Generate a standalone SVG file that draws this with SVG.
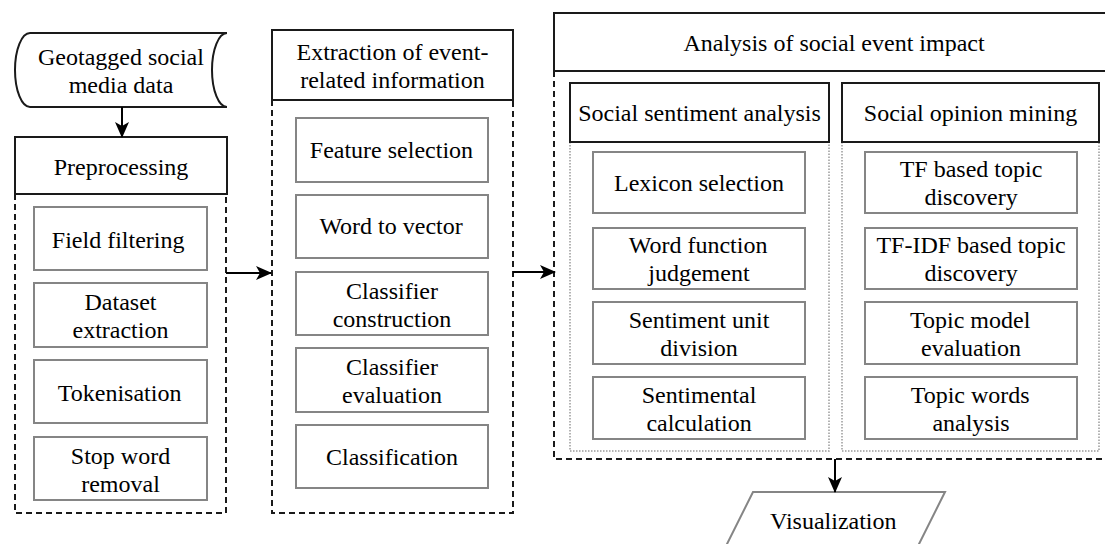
<svg xmlns="http://www.w3.org/2000/svg" width="1105" height="544" viewBox="0 0 1105 544">
  <style>
    .head { fill: #ffffff; stroke: #1a1a1a; stroke-width: 2; }
    .step { fill: #ffffff; stroke: #858585; stroke-width: 2; }
    .group { fill: none; stroke: #1a1a1a; stroke-width: 2; stroke-dasharray: 6 4; }
    .sub { fill: none; stroke: #9a9a9a; stroke-width: 1.5; stroke-dasharray: 1.5 1.5; }
    .link { fill: none; stroke: #000000; stroke-width: 2; marker-end: url(#arrow); }
  </style>
  <defs>
    <marker id="arrow" markerUnits="userSpaceOnUse" viewBox="0 0 16 14" markerWidth="16" markerHeight="14" refX="15" refY="7" orient="auto">
      <path d="M0,0 L16,7 L0,14 L4,7 Z" fill="#000000"/>
    </marker>
  </defs>
  <rect width="1105" height="544" fill="#ffffff"/>

  <!-- Column 1: input data and preprocessing (labels placed by start x, Times metrics) -->
  <g id="input-data">
    <path class="head" d="M30,33 H227 A15,37 0 0,0 227,107 H30 A15,37 0 0,1 30,33 Z"/>
    <text x="38" y="65" font-size="24" font-family="Liberation Serif">Geotagged social</text>
    <text x="68.7" y="93" font-size="24" font-family="Liberation Serif">media data</text>
  </g>
  <g id="preprocessing">
    <path class="group" d="M15,194 V513 H226 V194"/>
    <rect class="head" x="15" y="137" width="212" height="57"/>
    <text x="53.7" y="175" font-size="24" font-family="Liberation Serif">Preprocessing</text>
  </g>
  <g id="field-filtering">
    <rect class="step" x="34" y="207" width="173" height="63"/>
    <text x="51.8" y="248" font-size="24" font-family="Liberation Serif">Field filtering</text>
  </g>
  <g id="dataset-extraction">
    <rect class="step" x="34" y="283" width="173" height="64"/>
    <text x="84.5" y="310" font-size="24" font-family="Liberation Serif">Dataset</text>
    <text x="72.5" y="338" font-size="24" font-family="Liberation Serif">extraction</text>
  </g>
  <g id="tokenisation">
    <rect class="step" x="34" y="360" width="173" height="63"/>
    <text x="57.8" y="401" font-size="24" font-family="Liberation Serif">Tokenisation</text>
  </g>
  <g id="stop-word-removal">
    <rect class="step" x="34" y="437" width="173" height="63"/>
    <text x="70.8" y="464" font-size="24" font-family="Liberation Serif">Stop word</text>
    <text x="81.2" y="492" font-size="24" font-family="Liberation Serif">removal</text>
  </g>

  <!-- Column 2: event-related information extraction -->
  <g id="extraction">
    <path class="group" d="M272,100 V513 H513 V100"/>
    <rect class="head" x="272" y="30" width="241" height="70"/>
    <text x="296.5" y="60" font-size="24" font-family="Liberation Serif">Extraction of event-</text>
    <text x="300.2" y="88" font-size="24" font-family="Liberation Serif">related information</text>
  </g>
  <g id="feature-selection">
    <rect class="step" x="296" y="118" width="192" height="64"/>
    <text x="309.8" y="158" font-size="24" font-family="Liberation Serif">Feature selection</text>
  </g>
  <g id="word-to-vector">
    <rect class="step" x="296" y="195" width="192" height="63"/>
    <text x="319.4" y="234" font-size="24" font-family="Liberation Serif">Word to vector</text>
  </g>
  <g id="classifier-construction">
    <rect class="step" x="296" y="272" width="192" height="63"/>
    <text x="346" y="299" font-size="24" font-family="Liberation Serif">Classifier</text>
    <text x="332.7" y="327" font-size="24" font-family="Liberation Serif">construction</text>
  </g>
  <g id="classifier-evaluation">
    <rect class="step" x="296" y="348" width="192" height="64"/>
    <text x="346" y="375" font-size="24" font-family="Liberation Serif">Classifier</text>
    <text x="342" y="403" font-size="24" font-family="Liberation Serif">evaluation</text>
  </g>
  <g id="classification">
    <rect class="step" x="296" y="425" width="192" height="63"/>
    <text x="326" y="465" font-size="24" font-family="Liberation Serif">Classification</text>
  </g>

  <!-- Column 3: impact analysis -->
  <g id="impact-analysis">
    <path class="group" d="M554,71 V459 H1114 V71"/>
    <rect class="head" x="554" y="13" width="560" height="58"/>
    <text x="683.4" y="51" font-size="24" font-family="Liberation Serif">Analysis of social event impact</text>
  </g>
  <g id="sentiment-analysis">
    <path class="sub" d="M570,142 V451 H829 V142"/>
    <rect class="head" x="570" y="83" width="259" height="59"/>
    <text x="578.2" y="121" font-size="24" font-family="Liberation Serif">Social sentiment analysis</text>
  </g>
  <g id="lexicon-selection">
    <rect class="step" x="593" y="152" width="212" height="61"/>
    <text x="614" y="191" font-size="24" font-family="Liberation Serif">Lexicon selection</text>
  </g>
  <g id="word-function">
    <rect class="step" x="593" y="228" width="212" height="61"/>
    <text x="628.7" y="253" font-size="24" font-family="Liberation Serif">Word function</text>
    <text x="648.3" y="281" font-size="24" font-family="Liberation Serif">judgement</text>
  </g>
  <g id="sentiment-unit">
    <rect class="step" x="593" y="302" width="212" height="62"/>
    <text x="628.7" y="328" font-size="24" font-family="Liberation Serif">Sentiment unit</text>
    <text x="660.3" y="356" font-size="24" font-family="Liberation Serif">division</text>
  </g>
  <g id="sentimental-calculation">
    <rect class="step" x="593" y="377" width="212" height="62"/>
    <text x="641.7" y="403" font-size="24" font-family="Liberation Serif">Sentimental</text>
    <text x="646.4" y="431" font-size="24" font-family="Liberation Serif">calculation</text>
  </g>

  <g id="opinion-mining">
    <path class="sub" d="M842,142 V451 H1099 V142"/>
    <rect class="head" x="842" y="83" width="257" height="59"/>
    <text x="863.8" y="121" font-size="24" font-family="Liberation Serif">Social opinion mining</text>
  </g>
  <g id="tf-topic">
    <rect class="step" x="865" y="152" width="212" height="61"/>
    <text x="899.7" y="177" font-size="24" font-family="Liberation Serif">TF based topic</text>
    <text x="924.4" y="205" font-size="24" font-family="Liberation Serif">discovery</text>
  </g>
  <g id="tfidf-topic">
    <rect class="step" x="865" y="228" width="212" height="61"/>
    <text x="876.4" y="253" font-size="24" font-family="Liberation Serif">TF-IDF based topic</text>
    <text x="924.4" y="281" font-size="24" font-family="Liberation Serif">discovery</text>
  </g>
  <g id="topic-model-evaluation">
    <rect class="step" x="865" y="302" width="212" height="62"/>
    <text x="910" y="328" font-size="24" font-family="Liberation Serif">Topic model</text>
    <text x="921" y="356" font-size="24" font-family="Liberation Serif">evaluation</text>
  </g>
  <g id="topic-words-analysis">
    <rect class="step" x="865" y="377" width="212" height="62"/>
    <text x="910.7" y="403" font-size="24" font-family="Liberation Serif">Topic words</text>
    <text x="932.4" y="431" font-size="24" font-family="Liberation Serif">analysis</text>
  </g>

  <!-- Output -->
  <g id="visualization">
    <path class="step" d="M753,492 H945 L915,552 H723 Z"/>
    <text x="770" y="529" font-size="24" font-family="Liberation Serif">Visualization</text>
  </g>

  <!-- Connectors -->
  <g id="connectors">
    <line class="link" x1="122" y1="107" x2="122" y2="137"/>
    <line class="link" x1="226" y1="273" x2="271" y2="273"/>
    <line class="link" x1="513" y1="272" x2="555" y2="272"/>
    <line class="link" x1="835" y1="459" x2="835" y2="492"/>
  </g>
</svg>
